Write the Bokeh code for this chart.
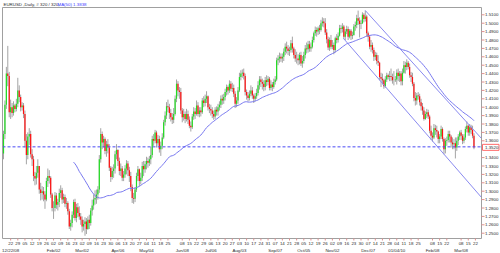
from bokeh.plotting import figure
from bokeh.models import ColumnDataSource, Range1d
from bokeh.core.properties import value
from bokeh.embed import file_html
from bokeh.resources import INLINE

# ---------------- data (EURUSD daily, one row per week, Mon..Fri) ----------------
first_open = 1.345
close = [
    1.368, 1.403, 1.440, 1.437, 1.394,
    1.400, 1.393, 1.402, 1.398, 1.404,
    1.420, 1.412, 1.400, 1.402, 1.392,
    1.360, 1.343, 1.365, 1.368, 1.344,
    1.338, 1.318, 1.315, 1.322, 1.330,
    1.302, 1.298, 1.300, 1.296, 1.290,
    1.312, 1.318, 1.316, 1.296, 1.280,
    1.280, 1.295, 1.284, 1.287, 1.298,
    1.301, 1.290, 1.293, 1.285, 1.286,
    1.276, 1.258, 1.262, 1.272, 1.287,
    1.268, 1.281, 1.274, 1.270, 1.266,
    1.258, 1.261, 1.264, 1.255, 1.266,
    1.262, 1.277, 1.283, 1.290, 1.292,
    1.296, 1.302, 1.338, 1.368, 1.358,
    1.362, 1.348, 1.356, 1.352, 1.328,
    1.317, 1.324, 1.327, 1.344, 1.349,
    1.336, 1.324, 1.327, 1.316, 1.320,
    1.327, 1.333, 1.325, 1.318, 1.305,
    1.292, 1.291, 1.302, 1.318, 1.326,
    1.312, 1.316, 1.330, 1.326, 1.332,
    1.336, 1.334, 1.338, 1.343, 1.362,
    1.360, 1.370, 1.357, 1.362, 1.350,
    1.354, 1.364, 1.382, 1.390, 1.401,
    1.400, 1.393, 1.388, 1.385, 1.392,
    1.410, 1.428, 1.420, 1.418, 1.396,
    1.388, 1.392, 1.386, 1.392, 1.385,
    1.378, 1.376, 1.389, 1.395, 1.392,
    1.402, 1.392, 1.396, 1.394, 1.408,
    1.405, 1.410, 1.413, 1.400, 1.398,
    1.396, 1.392, 1.389, 1.397, 1.395,
    1.400, 1.403, 1.410, 1.408, 1.412,
    1.418, 1.424, 1.420, 1.428, 1.422,
    1.423, 1.416, 1.404, 1.408, 1.420,
    1.436, 1.440, 1.441, 1.437, 1.418,
    1.414, 1.411, 1.416, 1.420, 1.414,
    1.410, 1.413, 1.417, 1.426, 1.433,
    1.430, 1.428, 1.424, 1.432, 1.430,
    1.434, 1.423, 1.427, 1.424, 1.430,
    1.433, 1.456, 1.458, 1.460, 1.458,
    1.460, 1.466, 1.472, 1.470, 1.467,
    1.468, 1.476, 1.470, 1.462, 1.458,
    1.458, 1.456, 1.462, 1.452, 1.455,
    1.462, 1.470, 1.469, 1.475, 1.470,
    1.472, 1.480, 1.488, 1.492, 1.490,
    1.494, 1.492, 1.500, 1.502, 1.500,
    1.489, 1.481, 1.471, 1.480, 1.472,
    1.474, 1.468, 1.482, 1.480, 1.485,
    1.494, 1.493, 1.496, 1.484, 1.490,
    1.493, 1.484, 1.491, 1.485, 1.486,
    1.496, 1.498, 1.506, 1.503, 1.499,
    1.500, 1.510, 1.505, 1.508, 1.488,
    1.484, 1.472, 1.474, 1.468, 1.460,
    1.462, 1.455, 1.453, 1.436, 1.434,
    1.432, 1.425, 1.433, 1.438, 1.436,
    1.437, 1.436, 1.432, 1.432, 1.433,
    1.441, 1.437, 1.440, 1.431, 1.441,
    1.450, 1.448, 1.453, 1.448, 1.438,
    1.436, 1.428, 1.411, 1.408, 1.414,
    1.413, 1.406, 1.401, 1.396, 1.386,
    1.392, 1.394, 1.389, 1.372, 1.366,
    1.364, 1.375, 1.373, 1.371, 1.362,
    1.365, 1.374, 1.362, 1.350, 1.360,
    1.361, 1.368, 1.365, 1.358, 1.356,
    1.357, 1.352, 1.360, 1.365, 1.370,
    1.366, 1.360, 1.364, 1.374, 1.378,
    1.370, 1.376, 1.373, 1.366, 1.352,
]
high = [
    1.372, 1.408, 1.448, 1.473, 1.442,
    1.409, 1.405, 1.407, 1.404, 1.410,
    1.435, 1.426, 1.415, 1.406, 1.405,
    1.396, 1.368, 1.370, 1.375, 1.372,
    1.350, 1.342, 1.323, 1.330, 1.338,
    1.330, 1.310, 1.306, 1.305, 1.300,
    1.316, 1.327, 1.325, 1.318, 1.298,
    1.288, 1.299, 1.298, 1.291, 1.303,
    1.307, 1.304, 1.297, 1.296, 1.292,
    1.288, 1.279, 1.266, 1.276, 1.290,
    1.291, 1.285, 1.286, 1.282, 1.274,
    1.270, 1.266, 1.269, 1.268, 1.270,
    1.272, 1.280, 1.290, 1.296, 1.301,
    1.302, 1.306, 1.343, 1.375, 1.371,
    1.366, 1.364, 1.360, 1.362, 1.356,
    1.330, 1.329, 1.332, 1.348, 1.356,
    1.350, 1.340, 1.333, 1.330, 1.324,
    1.331, 1.337, 1.336, 1.329, 1.323,
    1.308, 1.298, 1.305, 1.322, 1.330,
    1.327, 1.322, 1.335, 1.336, 1.336,
    1.341, 1.340, 1.342, 1.353, 1.366,
    1.368, 1.373, 1.372, 1.367, 1.366,
    1.359, 1.369, 1.385, 1.395, 1.406,
    1.409, 1.404, 1.398, 1.393, 1.399,
    1.414, 1.433, 1.431, 1.424, 1.423,
    1.399, 1.398, 1.395, 1.398, 1.396,
    1.389, 1.383, 1.392, 1.400, 1.399,
    1.408, 1.406, 1.400, 1.400, 1.411,
    1.413, 1.415, 1.419, 1.414, 1.404,
    1.403, 1.400, 1.396, 1.400, 1.401,
    1.404, 1.407, 1.414, 1.415, 1.416,
    1.422, 1.427, 1.426, 1.432, 1.431,
    1.429, 1.427, 1.419, 1.412, 1.424,
    1.441, 1.444, 1.445, 1.446, 1.440,
    1.421, 1.418, 1.420, 1.426, 1.424,
    1.416, 1.417, 1.422, 1.431, 1.437,
    1.437, 1.434, 1.432, 1.436, 1.438,
    1.437, 1.436, 1.432, 1.430, 1.434,
    1.437, 1.459, 1.462, 1.465, 1.464,
    1.464, 1.470, 1.476, 1.478, 1.474,
    1.472, 1.480, 1.484, 1.472, 1.469,
    1.466, 1.463, 1.465, 1.466, 1.461,
    1.466, 1.474, 1.477, 1.479, 1.479,
    1.477, 1.484, 1.490, 1.496, 1.495,
    1.496, 1.498, 1.504, 1.507, 1.506,
    1.506, 1.493, 1.484, 1.483, 1.486,
    1.480, 1.477, 1.484, 1.487, 1.489,
    1.498, 1.498, 1.500, 1.498, 1.493,
    1.497, 1.496, 1.493, 1.493, 1.490,
    1.499, 1.502, 1.510, 1.515, 1.507,
    1.504, 1.513, 1.512, 1.515, 1.510,
    1.490, 1.486, 1.480, 1.477, 1.471,
    1.466, 1.465, 1.462, 1.454, 1.441,
    1.440, 1.434, 1.437, 1.441, 1.440,
    1.443, 1.446, 1.440, 1.443, 1.437,
    1.445, 1.446, 1.443, 1.443, 1.446,
    1.455, 1.454, 1.457, 1.455, 1.452,
    1.442, 1.441, 1.430, 1.418, 1.417,
    1.418, 1.416, 1.410, 1.405, 1.400,
    1.395, 1.398, 1.397, 1.391, 1.378,
    1.370, 1.380, 1.379, 1.378, 1.372,
    1.368, 1.378, 1.376, 1.364, 1.363,
    1.365, 1.372, 1.372, 1.367, 1.364,
    1.362, 1.364, 1.364, 1.368, 1.372,
    1.373, 1.368, 1.368, 1.377, 1.383,
    1.379, 1.380, 1.379, 1.378, 1.369,
]
low = [
    1.338, 1.362, 1.398, 1.425, 1.388,
    1.386, 1.388, 1.390, 1.394, 1.395,
    1.400, 1.406, 1.395, 1.396, 1.387,
    1.352, 1.332, 1.338, 1.355, 1.340,
    1.330, 1.312, 1.307, 1.308, 1.316,
    1.297, 1.289, 1.290, 1.288, 1.279,
    1.288, 1.305, 1.309, 1.292, 1.276,
    1.267, 1.276, 1.279, 1.277, 1.281,
    1.292, 1.285, 1.286, 1.281, 1.279,
    1.272, 1.255, 1.253, 1.257, 1.268,
    1.265, 1.263, 1.269, 1.266, 1.260,
    1.251, 1.253, 1.247, 1.249, 1.254,
    1.255, 1.259, 1.271, 1.278, 1.284,
    1.285, 1.290, 1.298, 1.334, 1.350,
    1.352, 1.344, 1.341, 1.345, 1.324,
    1.311, 1.314, 1.316, 1.321, 1.338,
    1.330, 1.319, 1.318, 1.312, 1.312,
    1.316, 1.320, 1.318, 1.311, 1.300,
    1.286, 1.285, 1.287, 1.299, 1.312,
    1.306, 1.308, 1.312, 1.318, 1.322,
    1.326, 1.328, 1.330, 1.332, 1.340,
    1.354, 1.357, 1.352, 1.354, 1.346,
    1.342, 1.350, 1.362, 1.378, 1.386,
    1.394, 1.386, 1.383, 1.380, 1.381,
    1.390, 1.406, 1.413, 1.410, 1.392,
    1.382, 1.384, 1.381, 1.383, 1.380,
    1.375, 1.371, 1.374, 1.385, 1.386,
    1.390, 1.389, 1.388, 1.389, 1.392,
    1.400, 1.401, 1.405, 1.396, 1.393,
    1.390, 1.387, 1.385, 1.386, 1.390,
    1.390, 1.396, 1.399, 1.403, 1.404,
    1.408, 1.414, 1.415, 1.417, 1.419,
    1.418, 1.412, 1.399, 1.400, 1.404,
    1.418, 1.432, 1.435, 1.433, 1.414,
    1.409, 1.407, 1.408, 1.413, 1.410,
    1.405, 1.407, 1.410, 1.414, 1.421,
    1.424, 1.421, 1.419, 1.420, 1.425,
    1.426, 1.420, 1.420, 1.419, 1.422,
    1.427, 1.431, 1.450, 1.453, 1.454,
    1.453, 1.455, 1.462, 1.464, 1.462,
    1.461, 1.465, 1.465, 1.458, 1.454,
    1.452, 1.450, 1.451, 1.449, 1.447,
    1.452, 1.458, 1.464, 1.465, 1.466,
    1.466, 1.470, 1.477, 1.485, 1.484,
    1.486, 1.487, 1.490, 1.496, 1.495,
    1.486, 1.476, 1.468, 1.467, 1.469,
    1.469, 1.463, 1.465, 1.476, 1.477,
    1.484, 1.488, 1.489, 1.481, 1.480,
    1.487, 1.480, 1.482, 1.480, 1.481,
    1.485, 1.491, 1.494, 1.498, 1.483,
    1.493, 1.499, 1.501, 1.502, 1.484,
    1.478, 1.469, 1.466, 1.464, 1.455,
    1.456, 1.451, 1.449, 1.432, 1.424,
    1.427, 1.422, 1.423, 1.430, 1.433,
    1.431, 1.431, 1.428, 1.426, 1.430,
    1.427, 1.431, 1.430, 1.426, 1.426,
    1.440, 1.440, 1.444, 1.445, 1.435,
    1.430, 1.425, 1.407, 1.402, 1.403,
    1.409, 1.402, 1.396, 1.391, 1.384,
    1.385, 1.387, 1.386, 1.369, 1.361,
    1.359, 1.362, 1.367, 1.364, 1.357,
    1.357, 1.362, 1.359, 1.344, 1.345,
    1.354, 1.358, 1.358, 1.352, 1.350,
    1.350, 1.339, 1.348, 1.355, 1.361,
    1.361, 1.356, 1.357, 1.361, 1.370,
    1.366, 1.366, 1.368, 1.363, 1.350,
]

# week-start (Monday) labels, weeks 1..66 after the first bar's week ("" = not printed)
day_labels = ["22", "29", "05", "12", "19", "26", "02", "09", "16", "23",
              "02", "09", "16", "23", "30", "06", "13", "20", "27", "04",
              "11", "18", "25", "", "08", "15", "22", "29", "06", "13",
              "20", "27", "03", "10", "17", "24", "31", "07", "14", "21",
              "28", "05", "12", "19", "26", "02", "09", "16", "23", "30",
              "07", "14", "21", "28", "04", "11", "18", "25", "", "08",
              "15", "22", "", "08", "15", "22"]
month_weeks = [1, 7, 11, 16, 20, 25, 29, 33, 38, 42, 46, 51, 55, 60, 64]
month_labels = ["12/22/08", "Feb/02", "Mar/02", "Apr/06", "May/04", "Jun/08", "Jul/06",
                "Aug/03", "Sep/07", "Oct/05", "Nov/02", "Dec/07", "01/04/10", "Feb/08", "Mar/08"]
price_ticks = [1.25, 1.26, 1.27, 1.28, 1.29, 1.30, 1.31, 1.32, 1.33, 1.34, 1.36, 1.37,
               1.38, 1.39, 1.40, 1.41, 1.42, 1.43, 1.44, 1.45, 1.46, 1.47, 1.48, 1.49,
               1.50, 1.51]

ma_period = 50
hline_price = 1.3528
bid_price = 1.3522
bid_label = "1.3520"
channel_upper_x = [253.0, 334.3]
channel_upper_y = [1.5151, 1.3627]
channel_lower_x = [237.8, 334.3]
channel_lower_y = [1.4818, 1.2925]
header_black = "EURUSD ,Daily, # 320 / 320,"
header_blue = "MA(50) 1.3838"

# ---------------- layout (canvas pixels -> data) ----------------
X0, PXB = 3.0, 1.43             # canvas x of bar 0, pixels per bar
P_REF, Y_REF, PXU = 1.51, 14.3, 840.0   # price at canvas y, pixels per price unit


def dx(px):
    return (px - X0) / PXB


def dy(py):
    return P_REF - (py - Y_REF) / PXU


L, R, T, B = dx(2), dx(481), dy(7), dy(238)
FONT = value("Liberation Sans")
FS = value("4.4px")
TXT = "#2a2a2a"

# ---------------- derived ----------------
n = len(close)
xs = list(range(n))
opens = [first_open] + close[:-1]
bull = [c >= o for o, c in zip(opens, close)]
src_w = ColumnDataSource(dict(x=xs, h=high, l=low))


def bodies(flag):
    sel = [i for i in xs if bull[i] == flag]
    return ColumnDataSource(dict(x=sel, t=[max(opens[i], close[i]) for i in sel],
                                 b=[min(opens[i], close[i]) for i in sel]))


ma_x = list(range(ma_period - 1, n))
ma_y = [sum(close[i - ma_period + 1:i + 1]) / ma_period for i in ma_x]

p = figure(width=500, height=253, output_backend="svg", toolbar_location=None,
           x_range=Range1d(dx(0), dx(500)), y_range=Range1d(dy(253), dy(0)),
           x_axis_location=None, y_axis_location=None, title=None,
           min_border=0, min_border_left=0, min_border_right=0,
           min_border_top=0, min_border_bottom=0)
p.grid.visible = False
p.outline_line_color = None
p.background_fill_color = "white"
p.border_fill_color = "white"

# candles
p.segment(x0="x", y0="h", x1="x", y1="l", source=src_w, line_color="#a4a4a4", line_width=1)
p.vbar(x="x", top="t", bottom="b", width=0.85, source=bodies(True),
       fill_color="#22dd22", line_color=None)
p.vbar(x="x", top="t", bottom="b", width=0.85, source=bodies(False),
       fill_color="#ff1010", line_color=None)

# indicator and drawn objects
p.line(ma_x, ma_y, line_color="#7878f0", line_width=1)
p.line(channel_upper_x, channel_upper_y, line_color="#8a8af0", line_width=1)
p.line(channel_lower_x, channel_lower_y, line_color="#8a8af0", line_width=1)
p.segment(x0=[L], y0=[hline_price], x1=[R], y1=[hline_price], line_color="#4a4af5",
          line_dash="3 2", line_width=1)

# chart frame
p.multi_line(xs=[[L, L], [R, R], [L, R], [L, R]], ys=[[T, B], [T, B], [T, T], [B, B]],
             line_color="#a0a0a0", line_width=1)

# right price scale
p.segment(x0=[R] * len(price_ticks), y0=price_ticks, x1=[dx(484)] * len(price_ticks),
          y1=price_ticks, line_color="#e09090", line_width=1)
p.text(x=[dx(484.5)] * len(price_ticks), y=price_ticks,
       text=["%.4f" % v for v in price_ticks], text_font=FONT, text_font_size=FS,
       text_color=TXT, text_align="left", text_baseline="middle")
# bid price box
p.quad(left=[dx(482)], right=[dx(498.5)], top=[bid_price + 3.0 / PXU],
       bottom=[bid_price - 3.0 / PXU], fill_color="white", line_color="#ff6a6a", line_width=1)
p.text(x=[dx(484.5)], y=[bid_price], text=[bid_label], text_font=FONT, text_font_size=FS,
       text_color=TXT, text_align="left", text_baseline="middle")

# time scale
day_x = [5 * (w + 1) for w, lab in enumerate(day_labels) if lab]
day_t = [lab for lab in day_labels if lab]
p.segment(x0=day_x, y0=[B] * len(day_x), x1=day_x, y1=[dy(240)] * len(day_x),
          line_color="#e09090", line_width=1)
p.text(x=day_x, y=[dy(242.5)] * len(day_x), text=day_t, text_font=FONT, text_font_size=FS,
       text_color=TXT, text_align="center", text_baseline="middle")
month_x = [5 * w for w in month_weeks]
p.text(x=month_x, y=[dy(249.5)] * len(month_x), text=month_labels, text_font=FONT,
       text_font_size=FS, text_color=TXT, text_align="center", text_baseline="middle")

# header
p.text(x=[dx(3)], y=[dy(4)], text=[header_black], text_font=FONT, text_font_size=FS,
       text_color=TXT, text_align="left", text_baseline="middle")
p.text(x=[dx(57)], y=[dy(4)], text=[header_blue], text_font=FONT, text_font_size=FS,
       text_color="#3a3aff", text_align="left", text_baseline="middle")

open("out.html", "w").write(file_html(p, INLINE))
